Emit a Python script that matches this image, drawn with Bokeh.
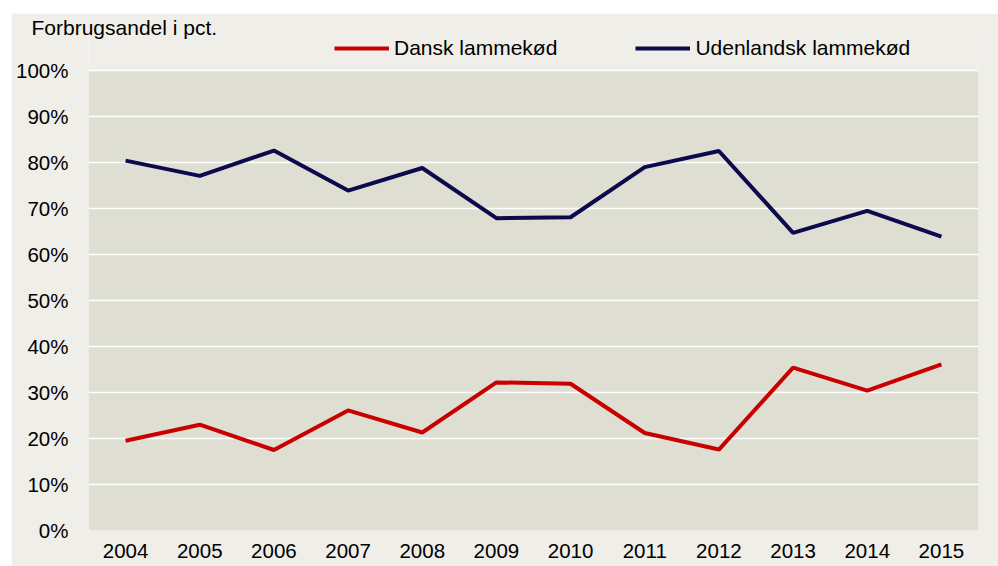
from bokeh.plotting import figure
from bokeh.models import (FactorRange, Range1d, NumeralTickFormatter, Legend, LegendItem,
                          BoxAnnotation, FixedTicker)
from bokeh.embed import file_html
from bokeh.resources import INLINE

years = ["2004", "2005", "2006", "2007", "2008", "2009", "2010", "2011", "2012", "2013", "2014", "2015"]
dansk = [0.195, 0.230, 0.175, 0.261, 0.213, 0.322, 0.319, 0.212, 0.176, 0.354, 0.304, 0.361]
udenlandsk = [0.804, 0.771, 0.826, 0.739, 0.788, 0.679, 0.681, 0.790, 0.825, 0.647, 0.695, 0.639]
y_ticks = [0, 0.1, 0.2, 0.3, 0.4, 0.5, 0.6, 0.7, 0.8, 0.9, 1.0]
title_text = "Forbrugsandel i pct."
series_names = ["Dansk lammekød", "Udenlandsk lammekød"]

FONT = "Liberation Sans"
RED = "#C80000"
NAVY = "#0A0A4C"
OUTER = "#EFEEE8"
PLOT_BG = "#DFDED3"

# frame bottom at page y=530, 460 px per 100 %
FRAME_TOP_PX = 21
y_end = (517 - FRAME_TOP_PX) / 460.0

p = figure(width=987, height=553, output_backend="svg", toolbar_location=None,
           x_range=FactorRange(*years), y_range=Range1d(0, y_end),
           min_border_left=77, min_border_right=20, min_border_top=FRAME_TOP_PX,
           min_border_bottom=36,
           background_fill_color=OUTER, border_fill_color=OUTER,
           outline_line_color=None, margin=(13, 0, 0, 11))

p.add_layout(BoxAnnotation(bottom=0, top=1, fill_color=PLOT_BG, fill_alpha=1,
                           line_color=None, level="image"))

r1 = p.line(years, dansk, line_color=RED, line_width=4)
r2 = p.line(years, udenlandsk, line_color=NAVY, line_width=4)

p.xgrid.grid_line_color = None
p.ygrid.grid_line_color = "white"
p.ygrid.grid_line_width = 1.6
p.ygrid.ticker = FixedTicker(ticks=y_ticks)
p.yaxis.ticker = FixedTicker(ticks=y_ticks)
p.yaxis.formatter = NumeralTickFormatter(format="0%")

for ax in (p.xaxis[0], p.yaxis[0]):
    ax.axis_line_color = None
    ax.major_tick_line_color = None
    ax.minor_tick_line_color = None
    ax.major_tick_out = 0
    ax.major_tick_in = 0
    ax.major_label_text_font = FONT
    ax.major_label_text_font_size = "20.5px"
    ax.major_label_text_color = "black"
p.yaxis.major_label_standoff = 20
p.xaxis.major_label_standoff = 13

p.title.text = title_text
p.title.align = "left"
p.title.offset = -57
p.title.standoff = -9
p.title.text_font = FONT
p.title.text_font_size = "21px"
p.title.text_font_style = "normal"
p.title.text_color = "black"

legend = Legend(items=[LegendItem(label=series_names[0], renderers=[r1]),
                       LegendItem(label=series_names[1], renderers=[r2])],
                orientation="horizontal", location=(246, 470),
                glyph_width=55, glyph_height=24, label_height=24, label_standoff=5,
                spacing=78, padding=0, margin=0,
                border_line_color=None, background_fill_alpha=0,
                label_text_font=FONT, label_text_font_size="21px", label_text_color="black")
p.add_layout(legend, "center")

open("out.html", "w").write(file_html(p, INLINE))
